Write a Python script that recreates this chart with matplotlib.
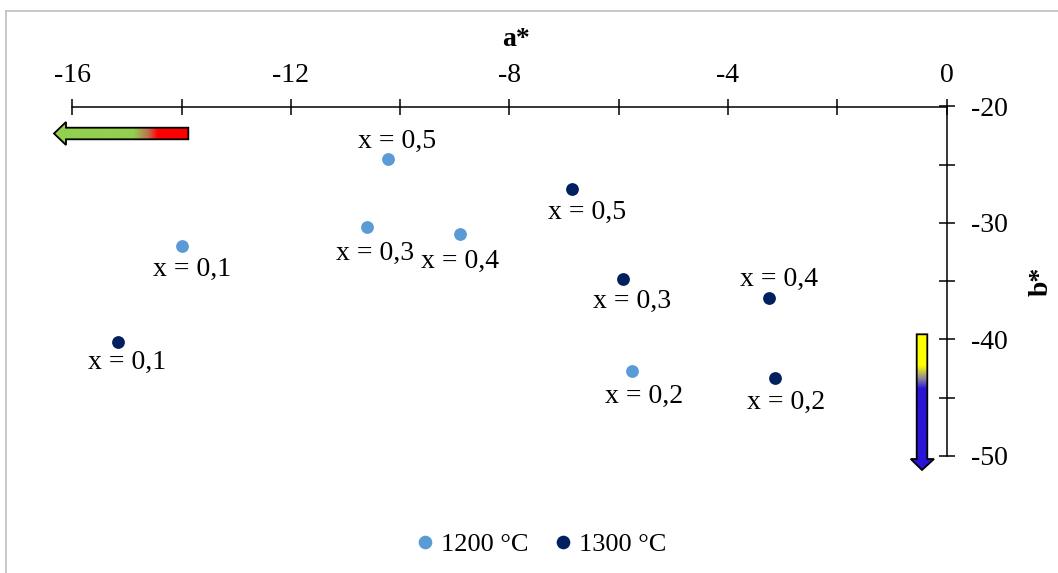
import numpy as np
import matplotlib
matplotlib.use("Agg")
import matplotlib.pyplot as plt
from matplotlib.path import Path
from matplotlib.patches import PathPatch
from matplotlib.colors import LinearSegmentedColormap
from matplotlib.lines import Line2D

plt.rcParams['font.family'] = ['Liberation Serif', 'DejaVu Serif']

# Data
labels_1200 = ["x = 0,5", "x = 0,1", "x = 0,3", "x = 0,4", "x = 0,2"]
a_1200 = [-10.22, -13.99, -10.61, -8.90, -5.76]
b_1200 = [-24.51, -31.98, -30.35, -30.95, -42.72]

labels_1300 = ["x = 0,5", "x = 0,1", "x = 0,3", "x = 0,4", "x = 0,2"]
a_1300 = [-6.85, -15.16, -5.92, -3.25, -3.14]
b_1300 = [-27.09, -40.23, -34.82, -36.45, -43.32]

series_names = ["1200 °C", "1300 °C"]
x_ticks = [-16, -12, -8, -4, 0]
y_ticks = [-20, -30, -40, -50]

# label offsets in pixels (dx, dy)
off_1200 = [(9, 18), (10, -23), (8, -26), (0, -27), (12, -25)]
off_1300 = [(15, -23), (9, -20), (9, -22), (10, 19), (11, -24)]

c1200 = "#5B9BD5"
c1300 = "#002060"

W, H = 1058, 573
L, R, T, B = 72.3, 946.5, 106.5, 455.7

fig = plt.figure(figsize=(W/100, H/100), dpi=100)
ax = fig.add_axes([L/W, 1-B/H, (R-L)/W, (B-T)/H])

ax.set_xlim(-16, 0)
ax.set_ylim(-50, -20)

ax.scatter(a_1200, b_1200, s=85, color=c1200, zorder=3, linewidths=0)
ax.scatter(a_1300, b_1300, s=85, color=c1300, zorder=3, linewidths=0)

FS = 20
for lab, a, b, (dx, dy) in zip(labels_1200, a_1200, b_1200, off_1200):
    ax.annotate(lab, (a, b), xytext=(dx, dy), textcoords='offset pixels',
                ha='center', va='center', fontsize=FS)
for lab, a, b, (dx, dy) in zip(labels_1300, a_1300, b_1300, off_1300):
    ax.annotate(lab, (a, b), xytext=(dx, dy), textcoords='offset pixels',
                ha='center', va='center', fontsize=FS)

# spines
for s in ['bottom', 'left']:
    ax.spines[s].set_visible(False)
ax.spines['top'].set_linewidth(1.1)
ax.spines['right'].set_linewidth(1.1)
ax.xaxis.tick_top()
ax.yaxis.tick_right()
ax.set_xticks(np.arange(-16, 1, 2))
ax.set_xticklabels([str(t) if t in x_ticks else "" for t in range(-16, 1, 2)])
ax.set_yticks(np.arange(-50, -19, 5))
ax.set_yticklabels([str(t) if t in y_ticks else "" for t in range(-50, -19, 5)])
ax.tick_params(axis='x', direction='inout', length=11.5, width=1.1, labelsize=FS, pad=7.5)
ax.tick_params(axis='y', direction='inout', length=11.5, width=1.1, labelsize=FS, pad=12)
for lab in ax.get_yticklabels():
    lab.set_horizontalalignment('left')

fig.text(516/W, 1-40/H, "a*", fontsize=FS, fontweight='bold', ha='center', va='center')
fig.text(1041/W, 1-281/H, "b*", fontsize=FS, fontweight='bold', ha='center', va='center',
         rotation=90)

# gradient arrows
def grad_arrow(verts, extent, colors, positions, horizontal):
    path = Path(verts + [verts[0]], [Path.MOVETO] + [Path.LINETO]*(len(verts)-1) + [Path.CLOSEPOLY])
    patch = PathPatch(path, facecolor='none', edgecolor='black', lw=1.3, clip_on=False, zorder=5)
    ax.add_patch(patch)
    cmap = LinearSegmentedColormap.from_list("g", list(zip(positions, colors)))
    grad = np.linspace(0, 1, 256)
    img = grad[None, :] if horizontal else grad[:, None]
    im = ax.imshow(img, cmap=cmap, extent=extent, aspect='auto', origin='lower',
                   zorder=4, interpolation='bilinear')
    im.set_clip_box(fig.bbox)
    im.set_clip_path(patch)

def px2data(px, py):
    a = -16 + (px - L) / (R - L) * 16
    b = -20 - (py - T) / (B - T) * 30
    return a, b

# horizontal arrow (green -> red), tip on the left
hv = [px2data(54, 133.5), px2data(66, 122), px2data(66, 127.7), px2data(188.3, 127.7),
      px2data(188.3, 139.3), px2data(66, 139.3), px2data(66, 145)]
ax0, _ = px2data(54, 133)
ax1, _ = px2data(188.3, 133)
_, by0 = px2data(54, 145)
_, by1 = px2data(54, 122)
grad_arrow(hv, [ax0, ax1, by0, by1], ["#92D050", "#92D050", "#C0704D", "#FF0000", "#FF0000"],
           [0, 0.59, 0.70, 0.77, 1.0], True)

# vertical arrow (yellow -> blue), tip at bottom
vv = [px2data(916.7, 334.3), px2data(927.3, 334.3), px2data(927.3, 459), px2data(934, 459),
      px2data(922, 470), px2data(910.7, 459), px2data(916.7, 459)]
vx0, _ = px2data(910.7, 334)
vx1, _ = px2data(934, 334)
_, vy0 = px2data(917, 470)
_, vy1 = px2data(917, 334.3)
grad_arrow(vv, [vx0, vx1, vy0, vy1], ["#2A14D6", "#2A14D6", "#8A80A0", "#FFFF00", "#FFFF00"],
           [0, 0.60, 0.67, 0.77, 1.0], False)
ax.set_xlim(-16, 0)
ax.set_ylim(-50, -20)

# legend
handles = [Line2D([], [], marker='o', ls='none', color=c1200, markersize=8.8),
           Line2D([], [], marker='o', ls='none', color=c1300, markersize=8.8)]
fig.legend(handles, series_names, loc='center', bbox_to_anchor=(539/W, 1-544/H),
           ncol=2, frameon=False, fontsize=19, handletextpad=0.1, columnspacing=0.8,
           handlelength=1.0, borderpad=0, borderaxespad=0)

# outer border (left and top)
fig.add_artist(Line2D([6/W, 6/W], [0, 1-11/H], transform=fig.transFigure,
                      color='#BFBFBF', lw=1.2))
fig.add_artist(Line2D([6/W, 1], [1-11/H, 1-11/H], transform=fig.transFigure,
                      color='#BFBFBF', lw=1.2))

fig.savefig("out.png", dpi=100)
